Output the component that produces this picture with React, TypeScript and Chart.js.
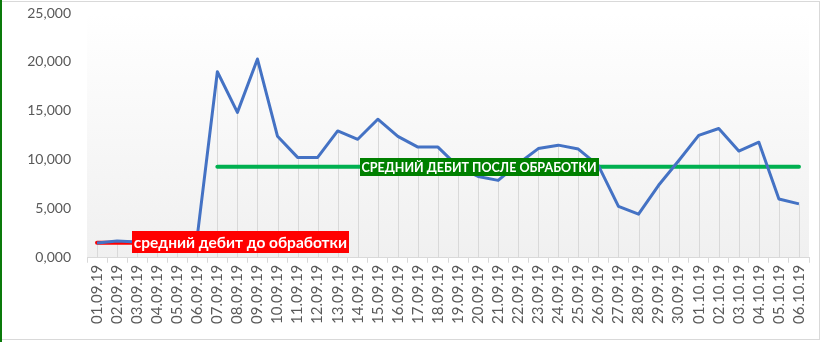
import React, { useEffect, useRef } from "react";
import { Chart, registerables } from "chart.js";

Chart.register(...registerables);

const categories = [
  "01.09.19","02.09.19","03.09.19","04.09.19","05.09.19","06.09.19","07.09.19","08.09.19","09.09.19","10.09.19",
  "11.09.19","12.09.19","13.09.19","14.09.19","15.09.19","16.09.19","17.09.19","18.09.19","19.09.19","20.09.19",
  "21.09.19","22.09.19","23.09.19","24.09.19","25.09.19","26.09.19","27.09.19","28.09.19","29.09.19","30.09.19",
  "01.10.19","02.10.19","03.10.19","04.10.19","05.10.19","06.10.19",
];

const debitValues = [
  1500, 1700, 1600, 1500, 1500, 2200, 19000, 14850, 20300, 12400,
  10250, 10250, 12950, 12100, 14150, 12400, 11300, 11300, 9300, 8300,
  7900, 9600, 11150, 11500, 11100, 9400, 5250, 4450, 7400, 9900,
  12500, 13200, 10900, 11800, 6000, 5500,
];

const avgBefore = [1530, 1530, 1530, 1530, 1530, 1530, null, null, null, null, null, null, null, null, null, null, null, null, null, null, null, null, null, null, null, null, null, null, null, null, null, null, null, null, null, null];
const avgAfter = [null, null, null, null, null, null, 9300, 9300, 9300, 9300, 9300, 9300, 9300, 9300, 9300, 9300, 9300, 9300, 9300, 9300, 9300, 9300, 9300, 9300, 9300, 9300, 9300, 9300, 9300, 9300, 9300, 9300, 9300, 9300, 9300, 9300];

const yTickValues = [0, 5000, 10000, 15000, 20000, 25000];
const yTickLabels = ["0,000", "5,000", "10,000", "15,000", "20,000", "25,000"];

const labelBefore = "средний дебит до обработки";
const labelAfter = "СРЕДНИЙ ДЕБИТ ПОСЛЕ ОБРАБОТКИ";

const framePlugin = {
  id: "frame",
  beforeDraw(chart: any) {
    const { ctx, chartArea, width, height } = chart;
    ctx.save();
    ctx.fillStyle = "#ffffff";
    ctx.fillRect(0, 0, width, height);
    const g = ctx.createLinearGradient(0, chartArea.top, 0, chartArea.bottom);
    g.addColorStop(0, "#ffffff");
    g.addColorStop(1, "#f0f0f0");
    ctx.fillStyle = g;
    ctx.fillRect(chartArea.left, chartArea.top, chartArea.right - chartArea.left, chartArea.bottom - chartArea.top);
    ctx.strokeStyle = "#d9d9d9";
    ctx.lineWidth = 1;
    ctx.strokeRect(0.5, 1.5, 819, 338);
    ctx.fillStyle = "#0a7a0a";
    ctx.fillRect(0, 0, 2, height);
    ctx.restore();
  },
  beforeDatasetsDraw(chart: any) {
    const { ctx, chartArea } = chart;
    const meta = chart.getDatasetMeta(0);
    ctx.save();
    ctx.strokeStyle = "#d9d9d9";
    ctx.lineWidth = 1;
    meta.data.forEach((pt: any) => {
      const x = Math.round(pt.x) + 0.5;
      ctx.beginPath();
      ctx.moveTo(x, pt.y);
      ctx.lineTo(x, chartArea.bottom);
      ctx.stroke();
    });
    ctx.restore();
  },
  afterDatasetsDraw(chart: any) {
    const { ctx } = chart;
    const xs = chart.scales.x;
    const ys = chart.scales.y;
    const drawBox = (text: string, cx: number, cy: number, font: string, bg: string, padX: number, h: number) => {
      ctx.save();
      ctx.font = font;
      const w = ctx.measureText(text).width + padX * 2;
      ctx.fillStyle = bg;
      ctx.fillRect(Math.round(cx - w / 2), Math.round(cy - h / 2), Math.round(w), h);
      ctx.fillStyle = "#ffffff";
      ctx.textAlign = "center";
      ctx.textBaseline = "middle";
      ctx.fillText(text, cx, cy + 1);
      ctx.restore();
    };
    drawBox(labelBefore, xs.getPixelForValue(7) + 3, ys.getPixelForValue(avgBefore[0] as number) - 1, "bold 15.5px Lato", "#ff0000", 2, 22);
    drawBox(labelAfter, xs.getPixelForValue(19) + 1, ys.getPixelForValue(avgAfter[19] as number), "bold 12.5px Lato", "#008000", 2, 18);
  },
};

export default function App() {
  const ref = useRef<HTMLCanvasElement>(null);
  useEffect(() => {
    document.body.style.margin = "0";
    const chart = new Chart(ref.current as HTMLCanvasElement, {
      type: "line",
      data: {
        labels: categories,
        datasets: [
          { data: debitValues, borderColor: "#4472c4", borderWidth: 3, pointRadius: 0, tension: 0, borderJoinStyle: "round" },
          { data: avgBefore as any, borderColor: "#ff0000", borderWidth: 4, pointRadius: 0, borderCapStyle: "round" },
          { data: avgAfter as any, borderColor: "#00b050", borderWidth: 4, pointRadius: 0, borderCapStyle: "round" },
        ],
      },
      options: {
        animation: false,
        responsive: false,
        devicePixelRatio: 1,
        layout: { padding: { left: 0, right: 12, top: 13, bottom: 16 } },
        plugins: { legend: { display: false }, tooltip: { enabled: false } },
        scales: {
          x: {
            offset: true,
            afterFit: (axis: any) => {
              axis.paddingLeft = 0;
              axis.paddingRight = 0;
            },
            grid: { display: true, offset: true, drawOnChartArea: false, drawTicks: true, tickLength: 5, color: "#d9d9d9" },
            border: { display: true, color: "#d9d9d9" },
            ticks: { minRotation: 90, maxRotation: 90, autoSkip: false, color: "#595959", font: { family: "Lato", size: 15 }, padding: 2 },
          },
          y: {
            min: 0,
            max: 25000,
            afterBuildTicks: (axis: any) => {
              axis.ticks = yTickValues.map((v) => ({ value: v }));
            },
            afterFit: (axis: any) => {
              axis.width = 87;
              axis.paddingTop = 0;
              axis.paddingBottom = 0;
            },
            grid: { display: false, drawTicks: false },
            border: { display: false },
            ticks: {
              color: "#595959",
              font: { family: "Lato", size: 14 },
              padding: 16,
              callback: (v: any) => yTickLabels[yTickValues.indexOf(Number(v))],
            },
          },
        },
      },
      plugins: [framePlugin],
    });
    return () => chart.destroy();
  }, []);
  return (
    <div style={{ position: "absolute", left: 0, top: 0, width: 821, height: 342 }}>
      <canvas ref={ref} width={821} height={342} style={{ display: "block", width: 821, height: 342 }} />
    </div>
  );
}
